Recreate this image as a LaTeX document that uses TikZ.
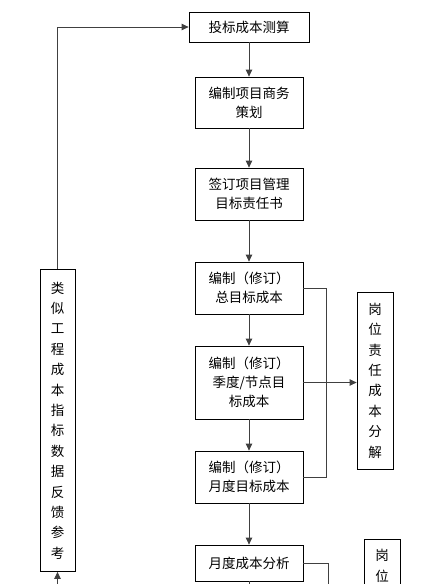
\documentclass[tikz,border=0pt]{standalone}
\usepackage{fontspec}
\newfontfamily\cjk{Noto Sans CJK SC}
\usetikzlibrary{arrows.meta}

\begin{document}
\begin{tikzpicture}
  [
    x=1pt, y=-1pt,
    box/.style={draw=black, line width=0.8pt, align=center, inner sep=0pt,
      font=\cjk\fontsize{13.5}{19}\selectfont},
    stepbox/.style={box, minimum width=108pt, minimum height=52pt},
    vbox/.style={box, minimum width=36pt, font=\cjk\fontsize{13.5}{20.4}\selectfont},
    link/.style={draw=black!75, line width=0.8pt},
    arrow/.style={link, -{Triangle[length=7pt, width=6.5pt]}},
  ]

  \useasboundingbox (0,0) rectangle (438,584);

  % main column
  \node [box, minimum width=120pt, minimum height=30pt] (bid) at (249,27) {投标成本测算};
  \node [stepbox, minimum height=51pt] (plan) at (249,102.5) {编制项目商务\\策划};
  \node [stepbox] (resp) at (249,194) {签订项目管理\\目标责任书};
  \node [stepbox] (total) at (249,288) {编制（修订）\\总目标成本};
  \node [stepbox, minimum height=73pt] (quarter) at (249,382.5) {编制（修订）\\季度/节点目\\标成本};
  \node [stepbox] (month) at (249,477) {编制（修订）\\月度目标成本};
  \node [stepbox, minimum height=36pt] (analysis) at (249,563) {月度成本分析};

  % side boxes
  \node [vbox, minimum width=35pt, minimum height=302pt] (feedback) at (57.5,420.5)
    {类\\似\\工\\程\\成\\本\\指\\标\\数\\据\\反\\馈\\参\\考};
  \node [vbox, minimum height=177pt] (post) at (375,380.5)
    {岗\\位\\责\\任\\成\\本\\分\\解};
  \node [vbox, minimum height=54pt] (post2) at (382,566) {岗\\位};

  % free ends below the page
  \coordinate (fbin) at (57.5,592);
  \coordinate (down) at (249,592);
  \coordinate (bus) at (326,0);
  \coordinate (bus2) at (328,592);

  % flow
  \foreach \a/\b in {bid/plan, plan/resp, resp/total, total/quarter, quarter/month, month/analysis} {
    \draw [arrow] (\a) -- (\b);
  }
  \draw [link] (analysis) -- (down);

  % feedback loop
  \draw [arrow] (feedback.north) |- (bid.west);
  \draw [arrow] (fbin) -- (feedback.south);

  % cost split
  \draw [link] (total.east) -| (bus |- month.east) -- (month.east);
  \draw [arrow] (quarter.east) -- (quarter.east -| post.west);
  \draw [link] (analysis.east) -| (bus2);

\end{tikzpicture}
\end{document}
